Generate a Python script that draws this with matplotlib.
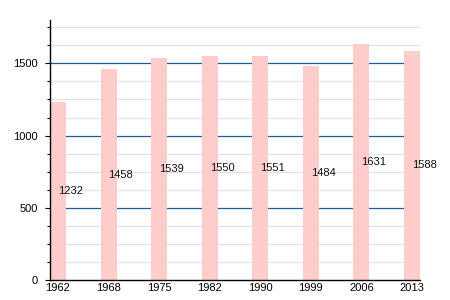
import matplotlib
matplotlib.use("Agg")
import matplotlib.pyplot as plt
import numpy as np

years = ["1962", "1968", "1975", "1982", "1990", "1999", "2006", "2013"]
population = [1232, 1458, 1539, 1550, 1551, 1484, 1631, 1588]
major_ticks = [0, 500, 1000, 1500]

plt.rcParams['font.family'] = ['Liberation Sans', 'DejaVu Sans']

fig = plt.figure(figsize=(4.5, 3), dpi=100)
ax = fig.add_axes([50/450, 20/300, 370/450, 260/300])

x = np.arange(len(years))
width = 0.316
# light grid every 125
for v in np.arange(125, 1800, 125):
    if v % 500 != 0:
        ax.axhline(v, color='#e2e2e2', lw=0.9, zorder=1)
for v in major_ticks[1:]:
    ax.axhline(v, color='#1c5a9c', lw=0.9, zorder=1)

ax.bar(x, population, width=width, color='#ffcccc', zorder=2)
for xi, v in zip(x, population):
    ax.text(xi, v / 2, str(v), ha='left', va='center', fontsize=8, color='#111111', zorder=3)

ax.set_xlim(-width/2, len(years) - 1 + width/2)
ax.set_ylim(0, 1800)
ax.set_xticks(x)
ax.set_xticklabels(years, fontsize=8)
ax.set_yticks(major_ticks)
ax.set_yticklabels([str(t) for t in major_ticks], fontsize=8)
ax.set_yticks(np.arange(0, 1800, 125), minor=True)
ax.tick_params(axis='x', length=0, pad=2)
ax.tick_params(axis='y', which='major', length=3.6, width=0.8, pad=5)
ax.tick_params(axis='y', which='minor', length=2.2, width=0.8)
for s in ['top', 'right']:
    ax.spines[s].set_visible(False)
ax.spines['left'].set_linewidth(1.0)
ax.spines['bottom'].set_linewidth(1.0)
ax.set_facecolor('white')

fig.savefig("out.png", dpi=100)
